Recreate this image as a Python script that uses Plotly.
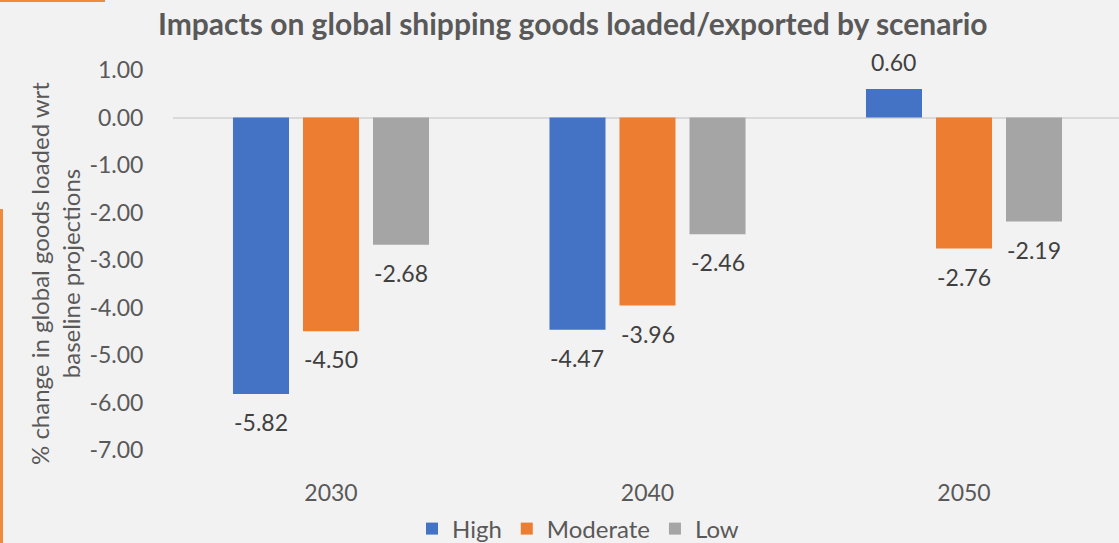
import plotly.graph_objects as go

# Data
years = ["2030", "2040", "2050"]
scenarios = ["High", "Moderate", "Low"]
high = [-5.82, -4.47, 0.60]
moderate = [-4.50, -3.96, -2.76]
low = [-2.68, -2.46, -2.19]
y_ticks = [1, 0, -1, -2, -3, -4, -5, -6, -7]

series = [high, moderate, low]
colors = ["#4472C4", "#ED7D31", "#A5A5A5"]

# Geometry (pixels) of the plot area inside a 1119x543 page
W, H = 1119, 543
L, R, T, B = 173, 0, 70, 93
pw, ph = W - L - R, H - T - B

# Bar slot / width in category units
slot = 0.2212
bar_w = 0.177

fig = go.Figure()
annotations = []
for k, (name, vals, col) in enumerate(zip(scenarios, series, colors)):
    xs = [i + (k - 1) * slot for i in range(len(years))]
    fig.add_trace(go.Bar(
        x=xs, y=vals, width=bar_w, name=name,
        marker=dict(color=col, line=dict(width=0)),
        hoverinfo="y",
    ))
    for x, v in zip(xs, vals):
        annotations.append(dict(
            x=x, y=v, xref="x", yref="y",
            text=f"{v:.2f}", showarrow=False,
            yanchor="middle", xanchor="center",
            yshift=27 if v >= 0 else -28,
            font=dict(family="Lato", size=23, color="#404040"),
        ))

def px_x(p):
    return (p - L) / pw

def px_y(p):
    return (H - B - p) / ph

# Rotated y-axis title
annotations.append(dict(
    x=px_x(55), y=px_y(274), xref="paper", yref="paper",
    text="% change in global goods loaded wrt<br>baseline projections",
    textangle=-90, showarrow=False, xanchor="center", yanchor="middle",
    font=dict(family="Lato", size=24, color="#595959"),
))

# Chart title
annotations.append(dict(
    x=px_x(573), y=px_y(23), xref="paper", yref="paper",
    text="<b>Impacts on global shipping goods loaded/exported by scenario</b>",
    showarrow=False, xanchor="center", yanchor="middle",
    font=dict(family="Lato", size=30, color="#595959"),
))

# Orange accent strokes at the page edges
shapes = [
    dict(type="rect", xref="paper", yref="paper",
         x0=px_x(0), x1=px_x(105), y0=px_y(2), y1=px_y(0),
         fillcolor="#F08A3C", line=dict(width=0), layer="above"),
    dict(type="rect", xref="paper", yref="paper",
         x0=px_x(0), x1=px_x(3), y0=px_y(H), y1=px_y(209),
         fillcolor="#F08A3C", line=dict(width=0), layer="above"),
]

unit = 316.5  # pixels per category
x0 = -(331 - L) / unit

fig.update_layout(
    width=W, height=H,
    margin=dict(l=L, r=R, t=T, b=B, autoexpand=False),
    paper_bgcolor="#F2F2F2", plot_bgcolor="#F2F2F2",
    barmode="overlay",
    showlegend=True,
    legend=dict(
        orientation="h", x=px_x(578), xanchor="center",
        y=px_y(529), yanchor="middle",
        font=dict(family="Lato", size=24, color="#595959"),
        bgcolor="rgba(0,0,0,0)", traceorder="normal",
    ),
    xaxis=dict(
        range=[x0, x0 + pw / unit],
        tickvals=list(range(len(years))), ticktext=years,
        showgrid=False, zeroline=False, showline=False,
        ticks="outside", ticklen=22, tickcolor="rgba(0,0,0,0)",
        tickfont=dict(family="Lato", size=23, color="#595959"),
        fixedrange=True,
    ),
    yaxis=dict(
        range=[-7, 1], tickvals=y_ticks,
        ticktext=[f"{v:.2f}" for v in y_ticks],
        showgrid=False, zeroline=True, zerolinecolor="#D9D9D9",
        zerolinewidth=2, showline=False,
        ticks="outside", ticklen=24, tickcolor="rgba(0,0,0,0)",
        tickfont=dict(family="Lato", size=23, color="#595959"),
        fixedrange=True,
    ),
    annotations=annotations,
    shapes=shapes,
)

fig.write_html("out.html")
